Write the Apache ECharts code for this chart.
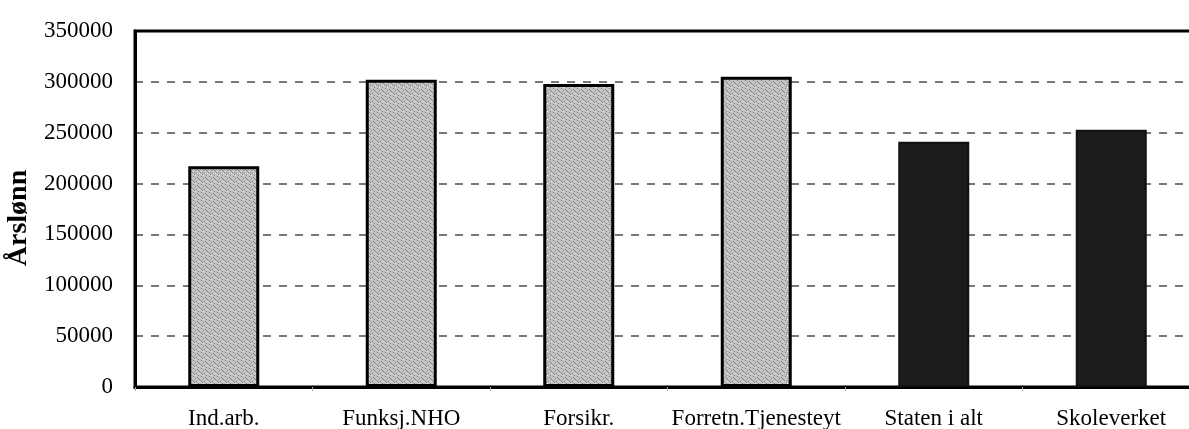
<!DOCTYPE html>
<html>
<head>
<meta charset="utf-8">
<script src="https://cdn.jsdelivr.net/npm/echarts@6/dist/echarts.min.js"></script>
<style>
    html, body { margin: 0; padding: 0; background: #fff; }
    #chart { width: 1189px; height: 429px; }
</style>
</head>
<body>
<div id="chart"></div>
<script>
// categories and yearly wage values
var categories = ['Ind.arb.', 'Funksj.NHO', 'Forsikr.', 'Forretn.Tjenesteyt', 'Staten i alt', 'Skoleverket'];
var wages = [217000, 302000, 298000, 305000, 241000, 253000];
// first four are private sector (light stipple), last two public (dark)
var isDark = [false, false, false, false, true, true];
var yTicks = [0, 50000, 100000, 150000, 200000, 250000, 300000, 350000];

// small grey stipple tile, like the scanned print
function makeStipple() {
    var c = document.createElement('canvas');
    c.width = 8;
    c.height = 8;
    var ctx = c.getContext('2d');
    ctx.fillStyle = '#c2c2c2';
    ctx.fillRect(0, 0, 8, 8);
    var dots = [[1, 0], [5, 1], [3, 2], [7, 3], [0, 4], [4, 5], [2, 6], [6, 7], [6, 2], [2, 4]];
    ctx.fillStyle = '#858585';
    for (var k = 0; k < dots.length; k++) {
        ctx.fillRect(dots[k][0], dots[k][1], 1, 1);
    }
    ctx.fillStyle = '#e4e4e4';
    ctx.fillRect(3, 7, 1, 1);
    ctx.fillRect(7, 5, 1, 1);
    ctx.fillRect(1, 3, 1, 1);
    return c;
}
var stipple = makeStipple();

var myChart = echarts.init(document.getElementById('chart'));

var barData = [];
for (var i = 0; i < wages.length; i++) {
    barData.push({
        value: wages[i],
        itemStyle: isDark[i]
            ? { color: '#1c1c1c', borderColor: '#111', borderWidth: 2 }
            : { color: { image: stipple, repeat: 'repeat' }, borderColor: '#000', borderWidth: 3 },
    });
}

var option = {
    animation: false,
    grid: {
        show: true,
        left: 135,
        right: -11,
        top: 31,
        bottom: 42,
        outerBoundsMode: 'none',
        borderColor: '#000',
        borderWidth: 3,
    },
    xAxis: {
        type: 'category',
        data: categories,
        axisLine: { lineStyle: { color: '#000', width: 3 } },
        axisTick: { show: true, length: 4, lineStyle: { color: '#aaa' } },
        axisLabel: {
            interval: 0,
            color: '#000',
            fontFamily: 'Liberation Serif',
            fontSize: 23,
            margin: 20,
        },
    },
    yAxis: {
        type: 'value',
        min: yTicks[0],
        max: yTicks[yTicks.length - 1],
        interval: 50000,
        name: 'Årslønn',
        nameLocation: 'middle',
        nameGap: 100,
        nameRotate: 90,
        nameTextStyle: {
            color: '#000',
            fontFamily: 'Liberation Serif',
            fontWeight: 'bold',
            fontSize: 28,
            padding: [0, 18, 0, 0],
        },
        axisLine: { show: true, lineStyle: { color: '#000', width: 3 } },
        axisTick: { show: false },
        axisLabel: {
            color: '#000',
            fontFamily: 'Liberation Serif',
            fontSize: 23,
            margin: 22,
            padding: [0, 0, 6, 0],
            formatter: function (v) { return String(v); },
        },
        splitLine: {
            show: true,
            showMaxLine: false,
            showMinLine: false,
            lineStyle: { color: '#777', width: 2, type: [8, 8] },
        },
    },
    series: [
        {
            type: 'bar',
            data: barData,
            barWidth: '40%',
        },
    ],
};

myChart.setOption(option);
</script>
</body>
</html>
